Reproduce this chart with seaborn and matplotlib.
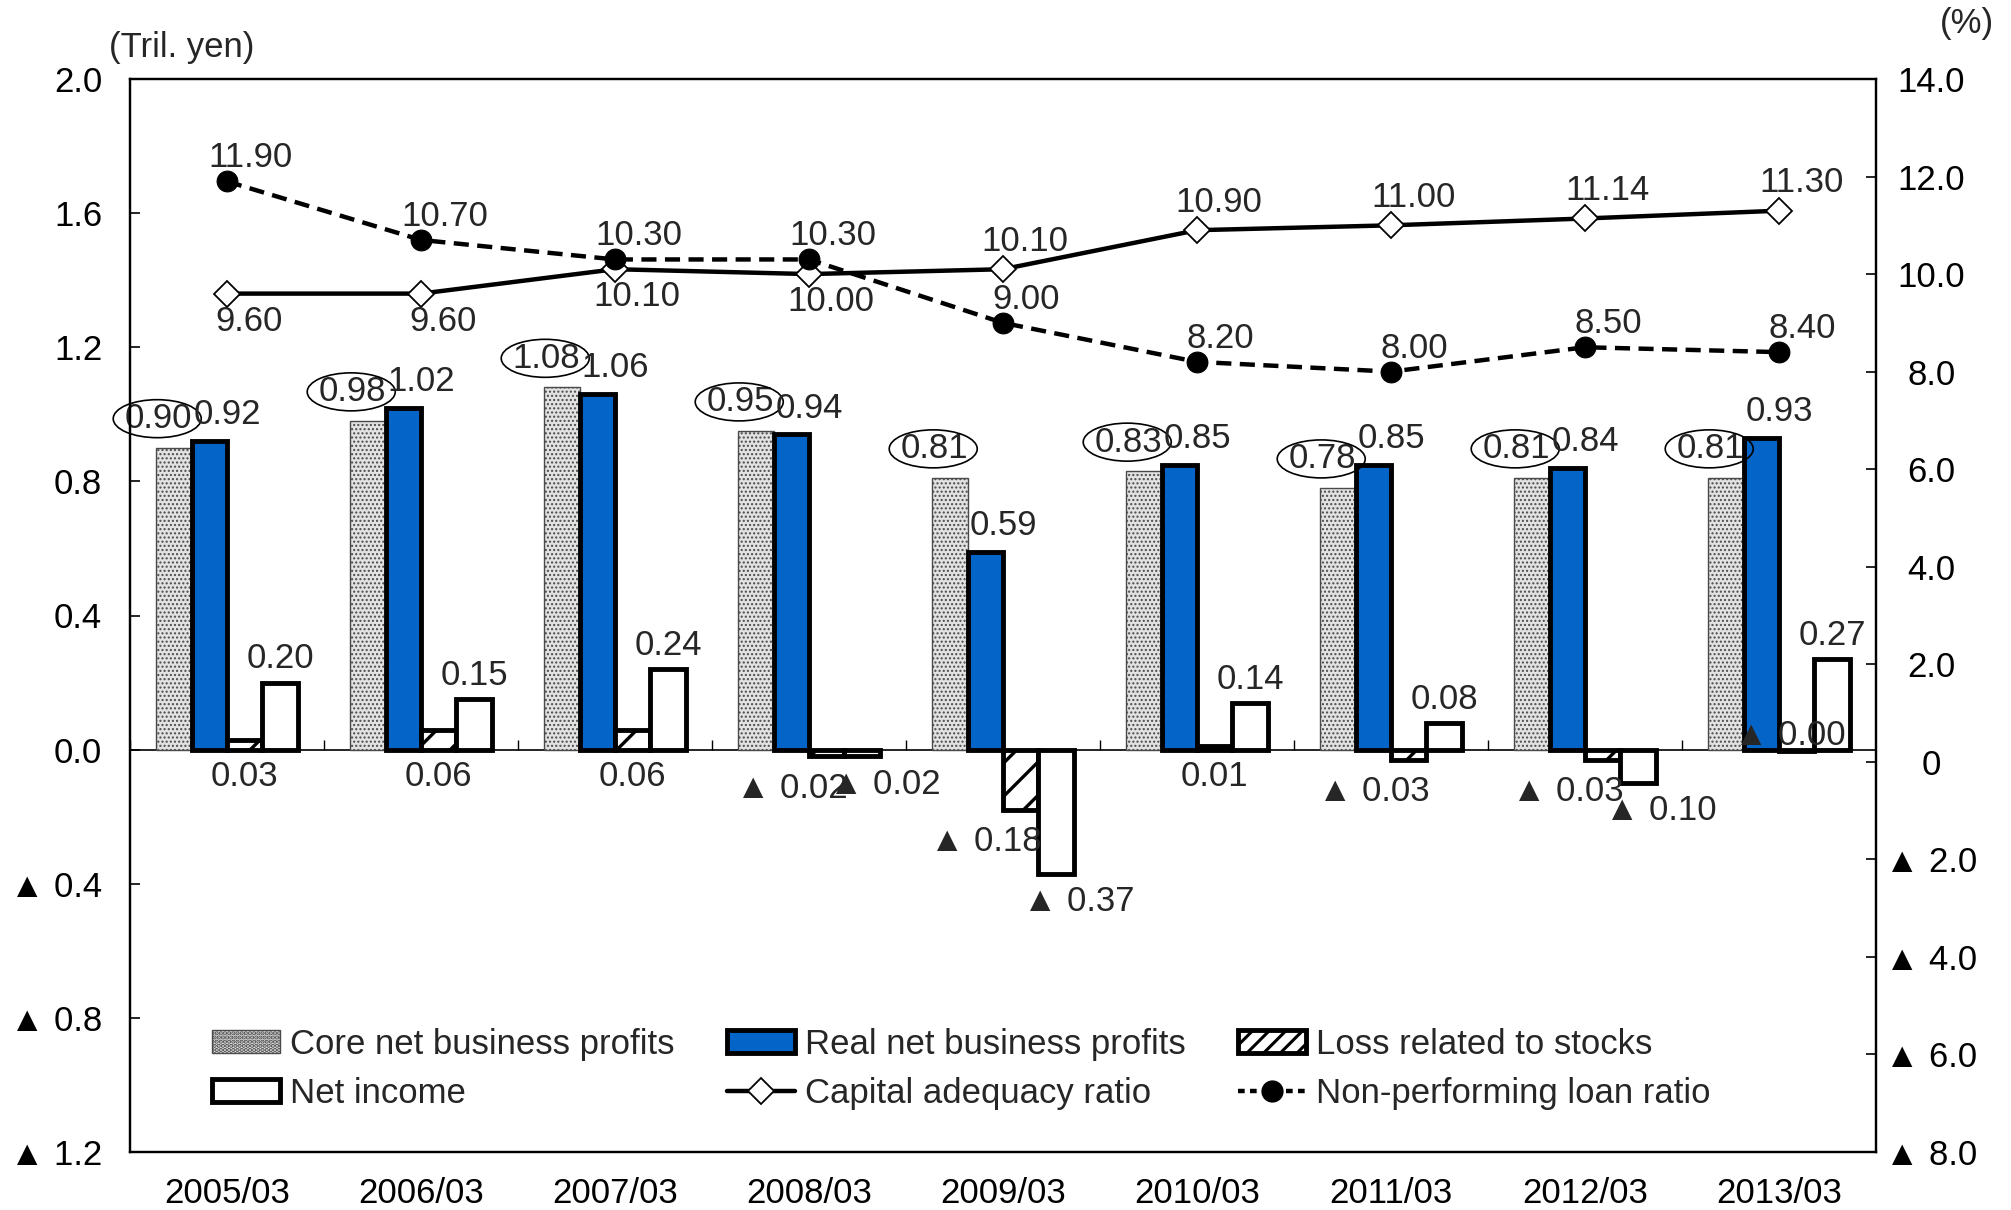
import numpy as np
import pandas as pd
import matplotlib
matplotlib.use("Agg")
import matplotlib.pyplot as plt
import matplotlib.transforms as mtransforms
import seaborn as sns
from matplotlib.patches import Patch, Ellipse
from matplotlib.lines import Line2D
from matplotlib import font_manager

# ---------------- data ----------------
periods = ["2005/03", "2006/03", "2007/03", "2008/03", "2009/03",
           "2010/03", "2011/03", "2012/03", "2013/03"]
core_profit = [0.90, 0.98, 1.08, 0.95, 0.81, 0.83, 0.78, 0.81, 0.81]
real_profit = [0.92, 1.02, 1.06, 0.94, 0.59, 0.85, 0.85, 0.84, 0.93]
stock_loss = [0.03, 0.06, 0.06, -0.02, -0.18, 0.01, -0.03, -0.03, -0.004]
net_income = [0.20, 0.15, 0.24, -0.02, -0.37, 0.14, 0.08, -0.10, 0.27]
capital_ratio = [9.60, 9.60, 10.10, 10.00, 10.10, 10.90, 11.00, 11.14, 11.30]
npl_ratio = [11.90, 10.70, 10.30, 10.30, 9.00, 8.20, 8.00, 8.50, 8.40]

series_names = ["Core net business profits", "Real net business profits",
                "Loss related to stocks", "Net income"]
line_names = ["Capital adequacy ratio", "Non-performing loan ratio"]

left_ticks = [-1.2, -0.8, -0.4, 0.0, 0.4, 0.8, 1.2, 1.6, 2.0]
left_tick_labels = ["▲ 1.2", "▲ 0.8", "▲ 0.4", "0.0", "0.4", "0.8", "1.2", "1.6", "2.0"]
right_ticks = [-8, -6, -4, -2, 0, 2, 4, 6, 8, 10, 12, 14]
right_tick_labels = ["▲ 8.0", "▲ 6.0", "▲ 4.0", "▲ 2.0", "0", "2.0", "4.0",
                     "6.0", "8.0", "10.0", "12.0", "14.0"]

# ---------------- style ----------------
sns.set_theme(style="white")
names = {f.name for f in font_manager.fontManager.ttflist}
main_font = "Liberation Sans" if "Liberation Sans" in names else "DejaVu Sans"
plt.rcParams["font.family"] = [main_font, "DejaVu Sans"]
plt.rcParams["hatch.linewidth"] = 2.2
FS = 25

fig = plt.figure(figsize=(20.11, 12.10), dpi=100)
L, R, T, B = 130, 1876, 79, 1152
W, H = 2011, 1210
ax = fig.add_axes([L / W, 1 - B / H, (R - L) / W, (B - T) / H])

df = pd.DataFrame({
    "period": periods * 4,
    "series": np.repeat(series_names, len(periods)),
    "value": core_profit + real_profit + stock_loss + net_income,
})

sns.barplot(data=df, x="period", y="value", hue="series", order=periods,
            hue_order=series_names, palette=["#e4e4e4", "#0564C8", "white", "white"],
            width=0.73, errorbar=None, legend=False, saturation=1, ax=ax)

CORE_FC, CORE_EC = "#e2e2e2", "#4a4a4a"
styles = [
    dict(fc=CORE_FC, ec=CORE_EC, hatch="....", lw=1.0, hlw=1.0),
    dict(fc="#0564C8", ec="black", hatch=None, lw=3.5, hlw=None),
    dict(fc="white", ec="black", hatch="/", lw=3.5, hlw=2.4),
    dict(fc="white", ec="black", hatch=None, lw=3.5, hlw=None),
]
for cont, st in zip(ax.containers, styles):
    for p in cont:
        p.set_facecolor(st["fc"])
        p.set_edgecolor(st["ec"])
        p.set_linewidth(st["lw"])
        if st["hatch"]:
            p.set_hatch(st["hatch"])
            if hasattr(p, "set_hatch_linewidth"):
                p.set_hatch_linewidth(st["hlw"])
        p.set_zorder(3)

ax.set_xlim(-0.5, len(periods) - 0.5)
ax.set_ylim(-1.2, 2.0)
ax.set_yticks(left_ticks)
ax.set_yticklabels(left_tick_labels)
ax.set_xlabel("")
ax.set_ylabel("")
ax.axhline(0, color="black", lw=1.2, zorder=2)
ax.vlines(np.arange(-0.5, len(periods), 1.0), 0, 0.03, color="black", lw=1.0, zorder=2)
ax.tick_params(axis="y", direction="in", length=7, width=1.2, pad=20, labelsize=FS,
               colors="black")
ax.tick_params(axis="x", length=0, pad=18, labelsize=FS, colors="black")
for sp in ax.spines.values():
    sp.set_color("black")
    sp.set_linewidth(1.6)


def fmt(v):
    return f"▲ {abs(v):.2f}" if v < 0 else f"{v:.2f}"


core_c, real_c, loss_c, net_c = ax.containers
for bar, v in zip(core_c, core_profit):
    xc = bar.get_x() + bar.get_width() / 2
    ax.annotate(fmt(v), (xc, v), xytext=(-11, 21), textcoords="offset points",
                ha="center", va="center", fontsize=FS, zorder=5)
    tr = fig.dpi_scale_trans + mtransforms.ScaledTranslation(xc, v, ax.transData)
    ax.add_patch(Ellipse((-12 / 72, 21 / 72), 0.88, 0.38, transform=tr,
                         fc="none", ec="black", lw=1.2, zorder=5, clip_on=False))
for bar, v in zip(real_c, real_profit):
    xc = bar.get_x() + bar.get_width() / 2
    ax.annotate(fmt(v), (xc, v), xytext=(13, 19), textcoords="offset points",
                ha="center", va="center", fontsize=FS, zorder=5)
for bar, v in zip(loss_c, stock_loss):
    xc = bar.get_x() + bar.get_width() / 2
    if abs(v) < 0.005:
        ax.annotate(fmt(v), (xc, 0), xytext=(-5, 10), textcoords="offset points",
                    ha="center", va="center", fontsize=FS, zorder=5)
    elif v > 0:
        ax.annotate(fmt(v), (xc, 0), xytext=(0, -19), textcoords="offset points",
                    ha="center", va="center", fontsize=FS, zorder=5)
    else:
        ax.annotate(fmt(v), (xc, v), xytext=(-25, -23), textcoords="offset points",
                    ha="center", va="center", fontsize=FS, zorder=5)
for bar, v in zip(net_c, net_income):
    xc = bar.get_x() + bar.get_width() / 2
    if v >= 0:
        ax.annotate(fmt(v), (xc, v), xytext=(0, 17), textcoords="offset points",
                    ha="center", va="center", fontsize=FS, zorder=5)
    else:
        ax.annotate(fmt(v), (xc, v), xytext=(16, -20), textcoords="offset points",
                    ha="center", va="center", fontsize=FS, zorder=5)

# ---------------- lines on right axis ----------------
ax2 = ax.twinx()
xpos = np.arange(len(periods))
sns.lineplot(x=xpos, y=capital_ratio, ax=ax2, color="black", lw=3.2, marker="D",
             markersize=13, markerfacecolor="white", markeredgecolor="black",
             markeredgewidth=1.3)
sns.lineplot(x=xpos, y=npl_ratio, ax=ax2, color="black", lw=3.2, marker="o",
             markersize=15, markerfacecolor="black", markeredgecolor="black",
             linestyle="--")
ax2.lines[-1].set_dashes((3.4, 1.9))
ax2.set_ylim(-8, 14)
ax2.set_yticks(right_ticks)
ax2.set_yticklabels(right_tick_labels)
ax2.set_xlim(-0.5, len(periods) - 0.5)
ax2.set_ylabel("")
ax2.tick_params(axis="y", direction="in", length=7, width=1.2, pad=40, labelsize=FS,
                colors="black")
for t in ax2.get_yticklabels():
    t.set_horizontalalignment("center")
for sp in ax2.spines.values():
    sp.set_color("black")
    sp.set_linewidth(1.6)

for i, (c, n) in enumerate(zip(capital_ratio, npl_ratio)):
    dy = -20 if c < n else 20
    ax2.annotate(f"{c:.2f}", (i, c), xytext=(16, dy), textcoords="offset points",
                 ha="center", va="center", fontsize=FS)
    ax2.annotate(f"{n:.2f}", (i, n), xytext=(17, 17), textcoords="offset points",
                 ha="center", va="center", fontsize=FS)

# ---------------- legend ----------------
h_core = Patch(facecolor=CORE_FC, edgecolor=CORE_EC, hatch="....", lw=1.0)
h_real = Patch(facecolor="#0564C8", edgecolor="black", lw=3.5)
h_loss = Patch(facecolor="white", edgecolor="black", hatch="//", lw=3.5)
h_net = Patch(facecolor="white", edgecolor="black", lw=3.5)
h_car = Line2D([], [], color="black", lw=3.2, marker="D", markersize=13,
               markerfacecolor="white", markeredgecolor="black", markeredgewidth=1.3)
h_npl = Line2D([], [], color="black", lw=3.2, marker="o", markersize=15,
               dashes=(1.5, 1.2))
handles = [h_core, h_net, h_real, h_car, h_loss, h_npl]
labels = [series_names[0], series_names[3], series_names[1], line_names[0],
          series_names[2], line_names[1]]
ax2.legend(handles, labels, ncol=3, loc="upper left",
           bbox_to_anchor=(212 / W, 1 - 1028 / H), bbox_transform=fig.transFigure,
           frameon=False, fontsize=FS, borderpad=0, handlelength=1.96,
           handleheight=0.63, handletextpad=0.29, columnspacing=1.5,
           labelspacing=0.45, borderaxespad=0)

fig.text(109 / W, 1 - 47 / H, "(Tril. yen)", ha="left", va="center", fontsize=FS)
fig.text(1967 / W, 1 - 23 / H, "(%)", ha="center", va="center", fontsize=FS)

fig.savefig("out.png", dpi=100)
